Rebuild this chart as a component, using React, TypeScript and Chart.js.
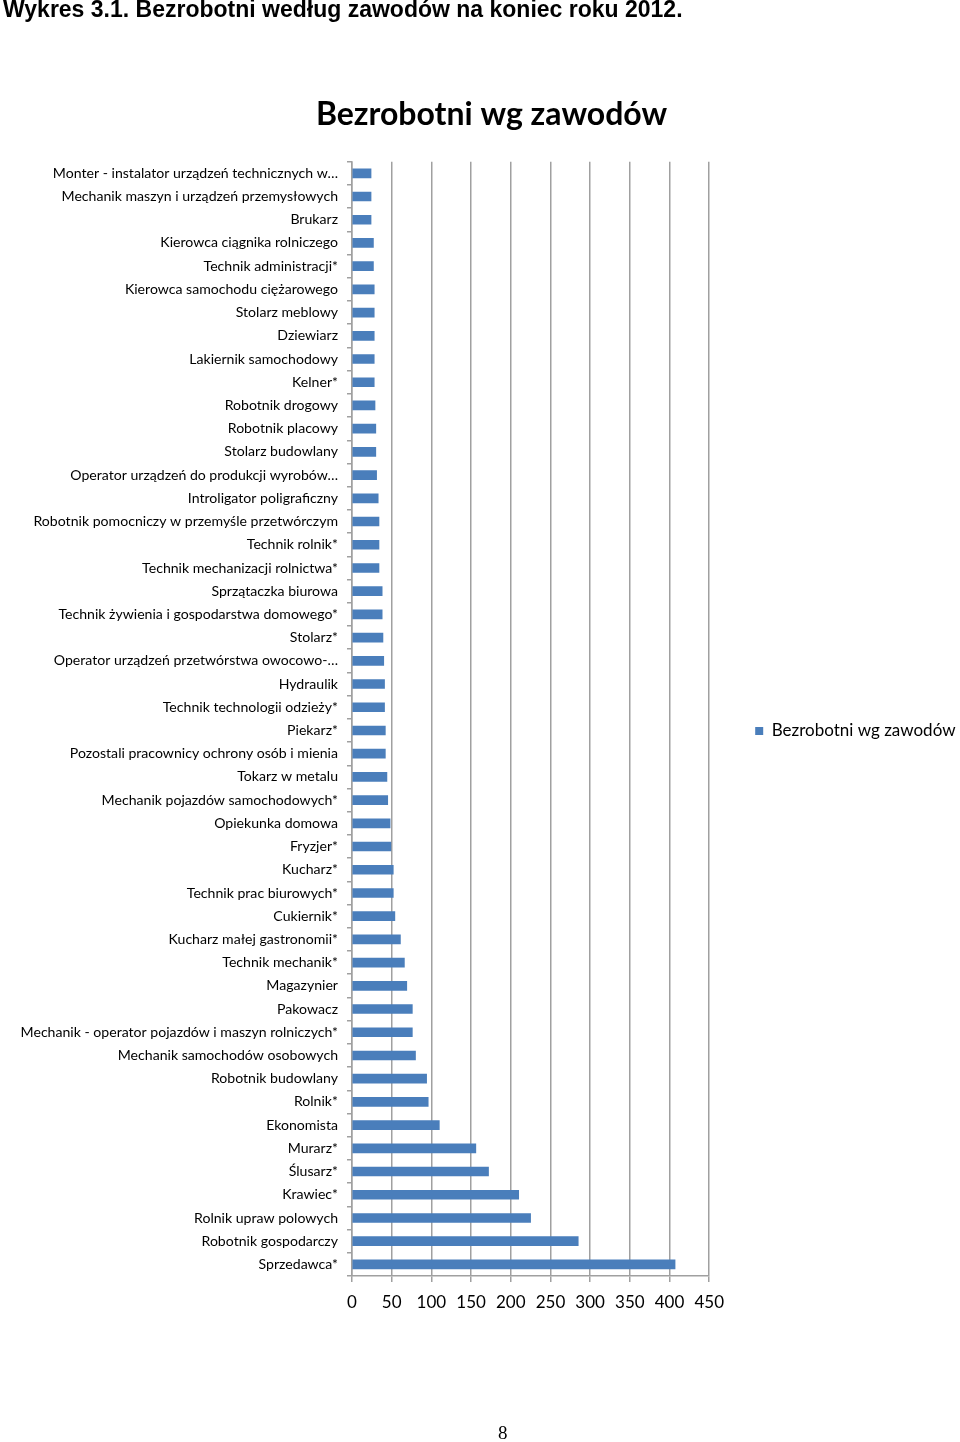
import React, { useEffect, useRef } from "react";
import { Chart, registerables } from "chart.js";

Chart.register(...registerables);

const categories: string[] = [
  "Monter - instalator urządzeń technicznych w…",
  "Mechanik maszyn i urządzeń przemysłowych",
  "Brukarz",
  "Kierowca ciągnika rolniczego",
  "Technik administracji*",
  "Kierowca samochodu ciężarowego",
  "Stolarz meblowy",
  "Dziewiarz",
  "Lakiernik samochodowy",
  "Kelner*",
  "Robotnik drogowy",
  "Robotnik placowy",
  "Stolarz budowlany",
  "Operator urządzeń do produkcji wyrobów…",
  "Introligator poligraficzny",
  "Robotnik pomocniczy w przemyśle przetwórczym",
  "Technik rolnik*",
  "Technik mechanizacji rolnictwa*",
  "Sprzątaczka biurowa",
  "Technik żywienia i gospodarstwa domowego*",
  "Stolarz*",
  "Operator urządzeń przetwórstwa owocowo-…",
  "Hydraulik",
  "Technik technologii odzieży*",
  "Piekarz*",
  "Pozostali pracownicy ochrony osób i mienia",
  "Tokarz w metalu",
  "Mechanik pojazdów samochodowych*",
  "Opiekunka domowa",
  "Fryzjer*",
  "Kucharz*",
  "Technik prac biurowych*",
  "Cukiernik*",
  "Kucharz małej gastronomii*",
  "Technik mechanik*",
  "Magazynier",
  "Pakowacz",
  "Mechanik - operator pojazdów i maszyn rolniczych*",
  "Mechanik samochodów osobowych",
  "Robotnik budowlany",
  "Rolnik*",
  "Ekonomista",
  "Murarz*",
  "Ślusarz*",
  "Krawiec*",
  "Rolnik upraw polowych",
  "Robotnik gospodarczy",
  "Sprzedawca*",
];

const unemployed: number[] = [
  24, 24, 24, 27, 27, 28, 28, 28, 28, 28, 29, 30, 30, 31, 33, 34,
  34, 34, 38, 38, 39, 40, 41, 41, 42, 42, 44, 45, 48, 49, 52, 52,
  54, 61, 66, 69, 76, 76, 80, 94, 96, 110, 156, 172, 210, 225, 285, 407,
];

const seriesLabel = "Bezrobotni wg zawodów";
const chartTitle = "Bezrobotni wg zawodów";
const pageHeading = "Wykres 3.1. Bezrobotni według zawodów na koniec roku 2012.";
const pageNumber = "8";

export default function App() {
  const ref = useRef<HTMLCanvasElement | null>(null);

  useEffect(() => {
    if (!ref.current) return;
    const grey = "#a0a0a0";
    const chart = new Chart(ref.current, {
      type: "bar",
      data: {
        labels: categories,
        datasets: [
          {
            label: seriesLabel,
            data: unemployed,
            backgroundColor: "#4a7ebb",
            borderColor: "#4a7ebb",
            borderWidth: 0,
            barThickness: 9,
          },
        ],
      },
      options: {
        indexAxis: "y",
        animation: false,
        responsive: false,
        maintainAspectRatio: false,
        layout: { padding: { top: 20, left: 17.5, right: -5.5, bottom: 0 } },
        plugins: {
          title: {
            display: true,
            text: chartTitle,
            color: "#000",
            font: { family: "Lato", size: 32, weight: "bold" },
            padding: { top: 75.8, bottom: 27.5 },
          },
          legend: {
            display: true,
            position: "right",
            maxWidth: 320,
            labels: {
              boxWidth: 8,
              boxHeight: 8,
              padding: 46,
              color: "#000",
              font: { family: "Lato", size: 17 },
            },
          },
          tooltip: { enabled: false },
        },
        scales: {
          x: {
            min: 0,
            max: 450,
            ticks: {
              stepSize: 50,
              color: "#000",
              font: { family: "Lato", size: 17 },
              padding: 10.5,
            },
            grid: {
              color: grey,
              lineWidth: 1.5,
              tickLength: 6,
              tickColor: grey,
            },
            border: { color: grey, width: 1.5 },
            afterFit: (scale: any) => {
              scale.height = 166;
            },
          },
          y: {
            ticks: {
              color: "#000",
              font: { family: "Lato", size: 14.1 },
              padding: 9,
              autoSkip: false,
            },
            grid: {
              drawOnChartArea: false,
              color: grey,
              lineWidth: 1.5,
              tickLength: 5,
              offset: true,
            },
            border: { color: grey, width: 1.5 },
            afterFit: (scale: any) => {
              scale.width = 334.5;
            },
          },
        },
      },
    });
    return () => chart.destroy();
  }, []);

  return (
    <div style={{ position: "absolute", top: 0, left: 0, width: 960, height: 1442, overflow: "hidden", background: "#fff" }}>
      <canvas ref={ref} width={960} height={1442} style={{ position: "absolute", top: 0, left: 0 }} />
      <div
        style={{
          position: "absolute",
          top: -4,
          left: 3,
          fontFamily: "'Liberation Sans', Arial, sans-serif",
          fontWeight: "bold",
          fontSize: 23,
          whiteSpace: "nowrap",
          color: "#000",
        }}
      >
        {pageHeading}
      </div>
      <div
        style={{
          position: "absolute",
          top: 1422,
          left: 498,
          fontFamily: "'Liberation Serif', serif",
          fontSize: 19,
          color: "#000",
        }}
      >
        {pageNumber}
      </div>
    </div>
  );
}
